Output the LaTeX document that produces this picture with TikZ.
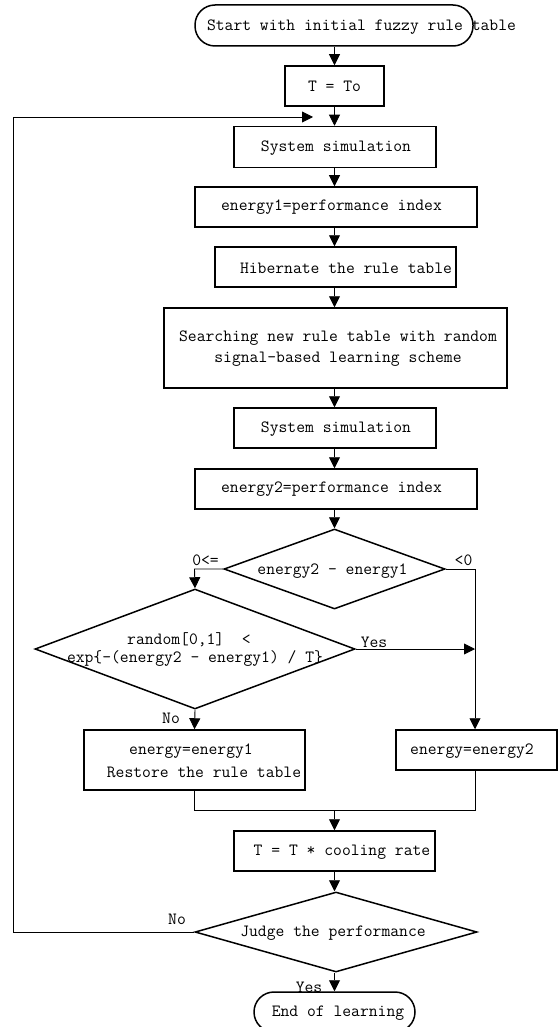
\documentclass[tikz,border=0pt]{standalone}
\usepackage{fontspec}
\usetikzlibrary{shapes.geometric,arrows.meta}
\tikzset{
  every node/.style={font=\ttfamily\fontsize{17.14}{21}\selectfont, inner sep=0pt},
  box/.style={draw, line width=1.5pt, rectangle, minimum width=#1, inner sep=0pt},
  term/.style={draw, line width=1.5pt, rectangle, rounded corners=20pt, minimum height=41pt, minimum width=#1},
  dia/.style={draw, line width=1.5pt, diamond, inner sep=0pt},
  txt/.style={align=center},
  conn/.style={line width=0.9pt},
  arr/.style={line width=0.9pt, -{Triangle[length=11pt,width=11pt]}},
}
\begin{document}
\begin{tikzpicture}[x=1pt,y=-1pt]
\useasboundingbox (0,0) rectangle (558,1027);
\clip (0,0) rectangle (558,1027);
% nodes
\node[term=278pt] (start) at (334,25.5) {};
\node[txt] (tstart) at (361.5,27) {Start with initial fuzzy rule table};
\node[box=99pt, minimum height=40pt] (tto) at (334.5,86) {T = To};
\coordinate (looptip) at (313,117);
\node[box=202pt, minimum height=41pt] (sys1) at (335,147) {};
\node[txt] (tsys1) at (336,148) {System simulation};
\node[box=282pt, minimum height=40pt] (e1) at (336,207) {};
\node[txt] (te1) at (331.5,207.5) {energy1=performance index};
\node[box=241pt, minimum height=40pt] (hib) at (335.5,267) {};
\node[txt] (thib) at (346,268) {Hibernate the rule table};
\node[box=343pt, minimum height=80pt] (search) at (335.5,348) {};
\node[txt] (tsearch) at (338,349) {Searching new rule table with random\\signal-based learning scheme};
\node[box=202pt, minimum height=40pt] (sys2) at (335,428) {};
\node[txt] (tsys2) at (336,429) {System simulation};
\node[box=282pt, minimum height=40pt] (e2) at (336,489) {};
\node[txt] (te2) at (331.5,489.5) {energy2=performance index};
\node[dia, minimum width=221pt, minimum height=80pt] (d1) at (334.5,569) {};
\node[txt] (td1) at (332.5,571) {energy2 - energy1};
\node[dia, minimum width=320pt, minimum height=120pt] (d2) at (195,649) {};
\node[txt] (td2a) at (189,640) {random[0,1]\ \ <};
\node[txt] (td2b) at (195,659) {exp\{-(energy2 - energy1) / T\}};
\node[box=221pt, minimum height=60pt] (en1) at (194.5,760) {};
\node[txt] (ten1a) at (191,751) {energy=energy1};
\node[txt] (ten1b) at (204,772) {Restore the rule table};
\node[box=161pt, minimum height=40pt] (en2) at (476.5,750) {};
\node[txt] (ten2) at (472,751) {energy=energy2};
\coordinate (mergeL) at (194.5,810);
\coordinate (mergeR) at (475,810);
\coordinate (mergeC) at (334.5,810);
\node[box=201pt, minimum height=40pt] (cool) at (334.5,851) {};
\node[txt] (tcool) at (342,852) {T = T * cooling rate};
\node[dia, minimum width=282pt, minimum height=80pt] (d3) at (336,932) {};
\node[txt] (td3) at (333,933) {Judge the performance};
\node[term=161pt, minimum height=40pt] (end) at (334.5,1012) {};
\node[txt] (tend) at (338,1013) {End of learning};
% corner coordinates
\coordinate (d1L) at (194.5,569);
\coordinate (d1R) at (475,569);
\coordinate (d2R) at (475,649);
\coordinate (d3L) at (13,932);
\coordinate (loopTL) at (13,117);
% labels
\node (l0le) at (205.5,560) {0<=};
\node (llt0) at (463.5,560) {<0};
\node (lyes2) at (374,642) {Yes};
\node (lno2) at (171,718) {No};
\node (lno3) at (177,919) {No};
\node (lyes3) at (309,987) {Yes};
% connectors
\draw[arr] (start.south -| tto) -- (tto.north);
\draw[arr] (tto.south) -- (tto.south |- sys1.north);
\draw[arr] (d3.west) -- (d3L) -- (loopTL) -- (looptip);
\draw[arr] (sys1.south -| tto) -- (tto |- e1.north);
\draw[arr] (e1.south -| tto) -- (tto |- hib.north);
\draw[arr] (hib.south -| tto) -- (tto |- search.north);
\draw[arr] (search.south -| tto) -- (tto |- sys2.north);
\draw[arr] (sys2.south -| tto) -- (tto |- e2.north);
\draw[arr] (e2.south -| tto) -- (tto |- d1.north);
\draw[arr] (d1.west) -- (d1L) -- (d2.north);
\draw[arr] (d1.east) -- (d1R) -- (d1R |- en2.north);
\draw[arr] (d2.east) -- (d2R);
\draw[arr] (d2.south) -- (en1.north);
\draw[conn] (en1.south) -- (mergeL) -- (mergeR) -- (mergeR |- en2.south);
\draw[arr] (mergeC) -- (cool.north);
\draw[arr] (cool.south) -- (cool.south |- d3.north);
\draw[arr] (d3.south -| end) -- (end.north);
\end{tikzpicture}
\end{document}
